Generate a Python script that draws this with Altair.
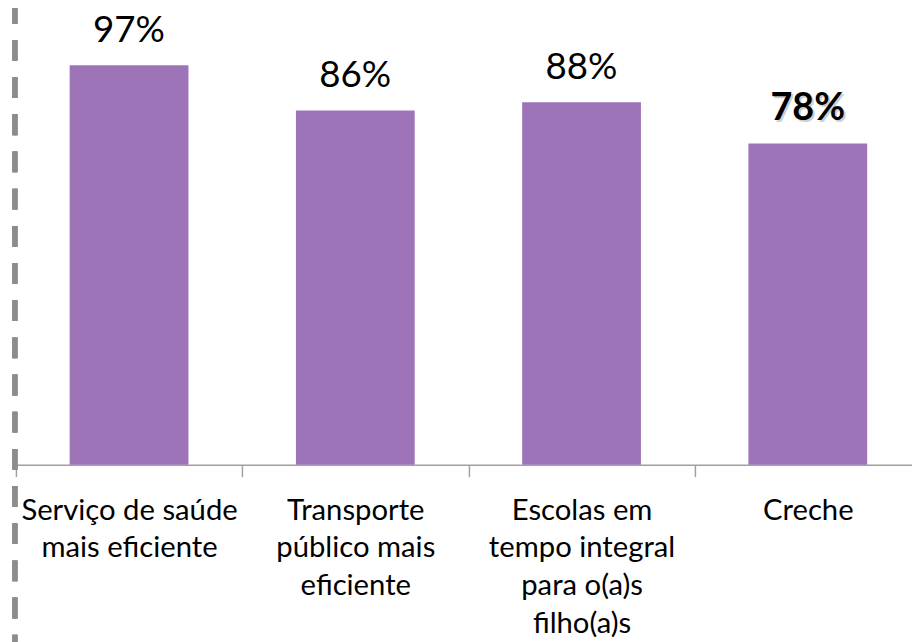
import altair as alt
import pandas as pd

categories = [
    "Serviço de saúde|mais eficiente",
    "Transporte|público mais|eficiente",
    "Escolas em|tempo integral|para o(a)s|filho(a)s",
    "Creche",
]
values = [0.97, 0.86, 0.88, 0.78]
highlight = "Creche"

df = pd.DataFrame({"cat": categories, "val": values})

FONT = "Lato"
PURPLE = "#9E74B8"
GRAY = "#A0A0A0"

x = alt.X(
    "cat:N",
    sort=categories,
    scale=alt.Scale(paddingInner=0, paddingOuter=0, range=[0, 913]),
    axis=alt.Axis(
        title=None,
        labelExpr="split(datum.label, '|')",
        labelAngle=0,
        labelFont=FONT,
        labelFontSize=29.5,
        labelColor="#000000",
        labelLineHeight=38,
        labelPadding=20,
        labelLimit=0,
        labelOverlap=False,
        labelBaseline="top",
        domainColor=GRAY,
        domainWidth=1.5,
        tickColor=GRAY,
        tickWidth=1.5,
        tickSize=12,
        tickBand="extent",
        grid=False,
    ),
)
y = alt.Y("val:Q", scale=alt.Scale(domain=[0, 1.1]), axis=None)

base = alt.Chart(df).encode(x=x, y=y)

bars = base.mark_bar(color=PURPLE, width=alt.RelativeBandSize(0.525))

labels_normal = base.transform_filter(alt.datum.cat != highlight).mark_text(
    font=FONT, fontSize=37, baseline="alphabetic", dy=-24, color="#000000"
).encode(text=alt.Text("val:Q", format=".0%"))

shadow = base.transform_filter(alt.datum.cat == highlight).mark_text(
    font=FONT, fontSize=38, fontWeight="bold", baseline="alphabetic",
    dx=2, dy=-22, color="#666666", opacity=0.3
).encode(text=alt.Text("val:Q", format=".0%"))

labels_bold = base.transform_filter(alt.datum.cat == highlight).mark_text(
    font=FONT, fontSize=38, fontWeight="bold", baseline="alphabetic",
    dy=-24, color="#000000"
).encode(text=alt.Text("val:Q", format=".0%"))

border = alt.Chart(df).mark_rule(
    color="#8C8C8C", strokeWidth=5, strokeDash=[21, 16.5]
).encode(x=alt.value(-1), y=alt.value(-9), y2=alt.value(640))

chart = alt.layer(bars, labels_normal, shadow, labels_bold, border).properties(
    width=904,
    height=457,
    autosize=alt.AutoSizeParams(type="none"),
    padding={"left": 8, "top": 1, "right": 0, "bottom": 176},
    background="#FFFFFF",
).configure_view(stroke=None)

chart.save("out.html", embed_options={"renderer": "svg", "actions": False})
